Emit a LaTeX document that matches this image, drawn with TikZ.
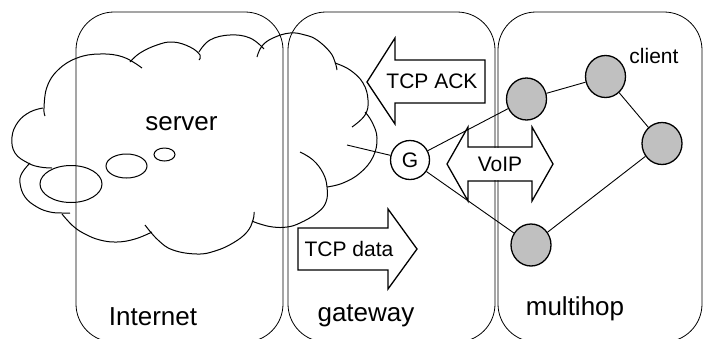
\documentclass[tikz,border=0pt]{standalone}
\usepackage{fontspec}
\setmainfont{Liberation Sans}
\usetikzlibrary{shapes.geometric}
\definecolor{nodegray}{RGB}{192,192,192}
\tikzset{
  panel/.style={draw, line width=0.8pt, rounded corners=38pt},
  cloudline/.style={line width=1pt},
  blockarrow/.style={draw, line width=1.3pt, line join=miter},
  graynode/.style={ellipse, draw, fill=nodegray, line width=1.3pt, minimum width=40pt, minimum height=42pt, inner sep=0pt},
  gnode/.style={circle, draw, fill=white, line width=1.3pt, minimum size=39pt, inner sep=0pt, font=\fontsize{21}{25}\selectfont},
  biglabel/.style={anchor=base, inner sep=0pt, font=\fontsize{26}{30}\selectfont},
  smalllabel/.style={inner sep=0pt, font=\fontsize{21}{25}\selectfont},
  link/.style={line width=0.9pt},
}
\begin{document}
\begin{tikzpicture}[x=1pt, y=-1pt]
\useasboundingbox (0,0) rectangle (703,338);
\clip (0,0) rectangle (703,338);
% panels
\draw[panel] (76,342) rectangle (283,12);
\draw[panel] (288,342) rectangle (495,12);
\draw[panel] (498,342) rectangle (702,12);
% cloud
\draw[cloudline] plot[smooth, tension=0.7] coordinates {(45,116) (44,108) (47,87) (58,70) (77,58) (100,54) (123,57) (142,68)};
\draw[cloudline] plot[smooth, tension=0.7] coordinates {(130,62) (140,53) (157,45) (173,42) (190,47) (200,55) (199,60)};
\draw[cloudline] plot[smooth, tension=0.7] coordinates {(199,52) (210,40) (230,35) (250,38) (264,49)};
\draw[cloudline] plot[smooth, tension=0.7] coordinates {(257,57) (262,46) (273,38) (290,33) (305,35) (317,40) (330,52) (335,62) (337,70)};
\draw[cloudline] plot[smooth, tension=0.7] coordinates {(335,63) (350,70) (363,83) (368,100) (365,115) (352,127)};
\draw[cloudline] plot[smooth, tension=0.7] coordinates {(365,112) (372,122) (377,138) (373,157) (360,173) (343,183) (327,187)};
\draw[cloudline] plot[smooth, tension=0.7] coordinates {(300,152) (313,160) (323,173) (327,187) (326,202) (317,213) (300,223) (287,227) (273,227) (260,224) (252,221)};
\draw[cloudline] plot[smooth, tension=0.7] coordinates {(254,212) (253,220) (247,232) (233,243) (215,251) (197,254) (173,250) (158,240) (145,225)};
\draw[cloudline] plot[smooth, tension=0.7] coordinates {(152,232) (135,239) (117,242) (100,240) (85,234) (73,226) (62,214)};
\draw[cloudline] plot[smooth, tension=0.7] coordinates {(30,163) (22,173) (20,183) (25,197) (37,207) (50,212) (62,213) (70,213)};
\draw[cloudline] plot[smooth, tension=0.7] coordinates {(43,108) (30,112) (18,122) (12,137) (15,153) (28,163) (40,167) (52,168)};
\draw[cloudline] (71,184) ellipse [x radius=31, y radius=18.5];
\draw[cloudline] (126.5,166) ellipse [x radius=20.5, y radius=12];
\draw[cloudline] (164.5,154.5) ellipse [x radius=10.5, y radius=6.5];
\node[biglabel] (server) at (181.5,130) {server};
% labels
\node[biglabel] (internetlbl) at (153,325) {Internet};
\node[biglabel] (gatewaylbl) at (366,321) {gateway};
\node[biglabel] (multihoplbl) at (575,315) {multihop};
\node[smalllabel, anchor=base] (client) at (654,63) {client};
% block arrows
\draw[blockarrow, fill=white] (367,82) -- (395,38) -- (395,60) -- (485,60) -- (485,103) -- (395,103) -- (395,124) -- cycle;
\node[smalllabel] (ack) at (432,81) {TCP ACK};
\draw[blockarrow, fill=white] (298,228) -- (388,228) -- (388,209) -- (417,249) -- (388,289) -- (388,270) -- (298,270) -- cycle;
\node[smalllabel] (data) at (349,249) {TCP data};
\draw[blockarrow] (447,164) -- (468,127) -- (468,147) -- (532,147) -- (532,127) -- (553,164) -- (532,201) -- (532,181) -- (468,181) -- (468,201) -- cycle;
\node[smalllabel, fill=white, minimum width=62pt, minimum height=32pt] (voip) at (500,164) {VoIP};
% network
\coordinate (gfree) at (347,145);
\node[gnode] (G) at (410,160) {G};
\node[graynode] (n1) at (526.5,99) {};
\node[graynode] (n2) at (605.5,76.5) {};
\node[graynode] (n3) at (662,143.5) {};
\node[graynode] (n4) at (531,245) {};
\draw[link] (G) -- (gfree);
\draw[link] (G) -- (n1);
\draw[link] (G) -- (n4);
\draw[link] (n1) -- (n2);
\draw[link] (n2) -- (n3);
\draw[link] (n3) -- (n4);
\end{tikzpicture}
\end{document}
